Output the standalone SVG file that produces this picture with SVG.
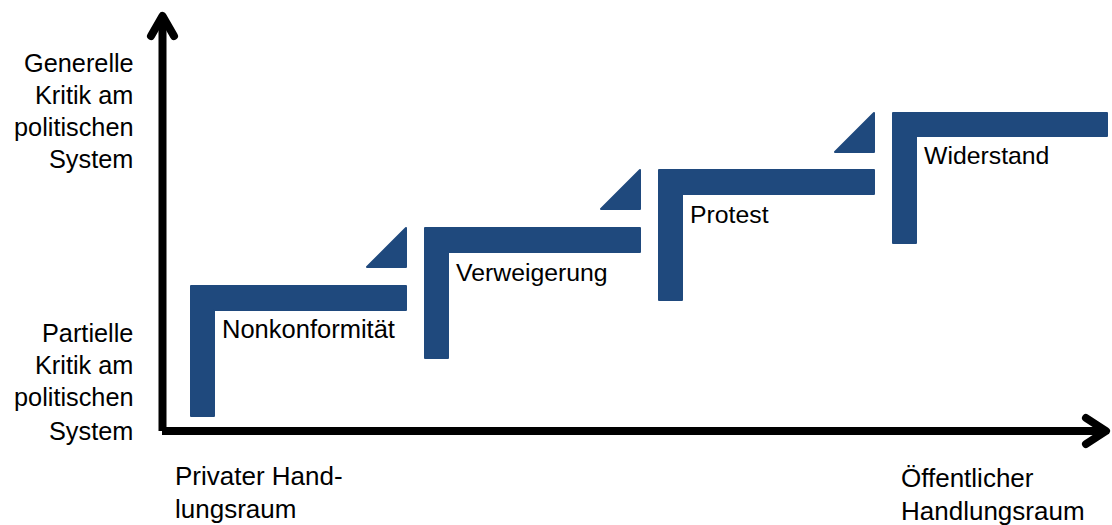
<svg xmlns="http://www.w3.org/2000/svg" width="1112" height="525" viewBox="0 0 1112 525">
<style>
.step{fill:#1F497D;stroke:#1F497D;stroke-width:2;stroke-linejoin:round}
.axis{fill:none;stroke:#000;stroke-width:8;stroke-linecap:round;stroke-linejoin:round}
.lbl{font-family:"Liberation Sans",Arial,sans-serif;font-size:25.3px;fill:#000}
.xl{font-family:"Liberation Sans",Arial,sans-serif;font-size:26px;fill:#000}
.nl{font-family:"Liberation Sans",Arial,sans-serif;font-size:24.8px;fill:#000}
</style>
<rect width="1112" height="525" fill="#fff"/>
<g id="connectors">
<path class="axis" d="M162.5 431 V18" style="stroke-linecap:butt"/>
<path class="axis" d="M151 36 L162.5 16 L174 36"/>
<path class="axis" d="M162 431 H1104" style="stroke-linecap:butt"/>
<path class="axis" d="M1086 418 L1106 431 L1086 444"/>
</g>
<g id="step1">
<path class="step" d="M191 286 H406 V310 H214 V416 H191 Z"/>
<text class="nl" x="222" y="338" style="font-size:25.5px">Nonkonformität</text>
</g>
<g id="tri1"><path class="step" d="M406 228 V267 H367 Z"/></g>
<g id="step2">
<path class="step" d="M425 228 H640 V252 H448 V358 H425 Z"/>
<text class="nl" x="456" y="281">Verweigerung</text>
</g>
<g id="tri2"><path class="step" d="M640 170 V209 H601 Z"/></g>
<g id="step3">
<path class="step" d="M659 170 H874 V194 H682 V300 H659 Z"/>
<text class="nl" x="690" y="223">Protest</text>
</g>
<g id="tri3"><path class="step" d="M874 113 V152 H835 Z"/></g>
<g id="step4">
<path class="step" d="M893 113 H1107 V136 H916 V243 H893 Z"/>
<text class="nl" x="924" y="164">Widerstand</text>
</g>
<g id="ylabel-top">
<text class="lbl" x="24" y="72">Generelle</text>
<text class="lbl" x="35" y="104">Kritik am</text>
<text class="lbl" x="14" y="136">politischen</text>
<text class="lbl" x="49" y="168">System</text>
</g>
<g id="ylabel-bottom">
<text class="lbl" x="42" y="342">Partielle</text>
<text class="lbl" x="35" y="374">Kritik am</text>
<text class="lbl" x="14" y="406">politischen</text>
<text class="lbl" x="49" y="440">System</text>
</g>
<g id="xlabel-left">
<text class="xl" x="175" y="485">Privater Hand-</text>
<text class="xl" x="175" y="518">lungsraum</text>
</g>
<g id="xlabel-right">
<text class="xl" x="901" y="487">Öffentlicher</text>
<text class="xl" x="901" y="520">Handlungsraum</text>
</g>
</svg>
